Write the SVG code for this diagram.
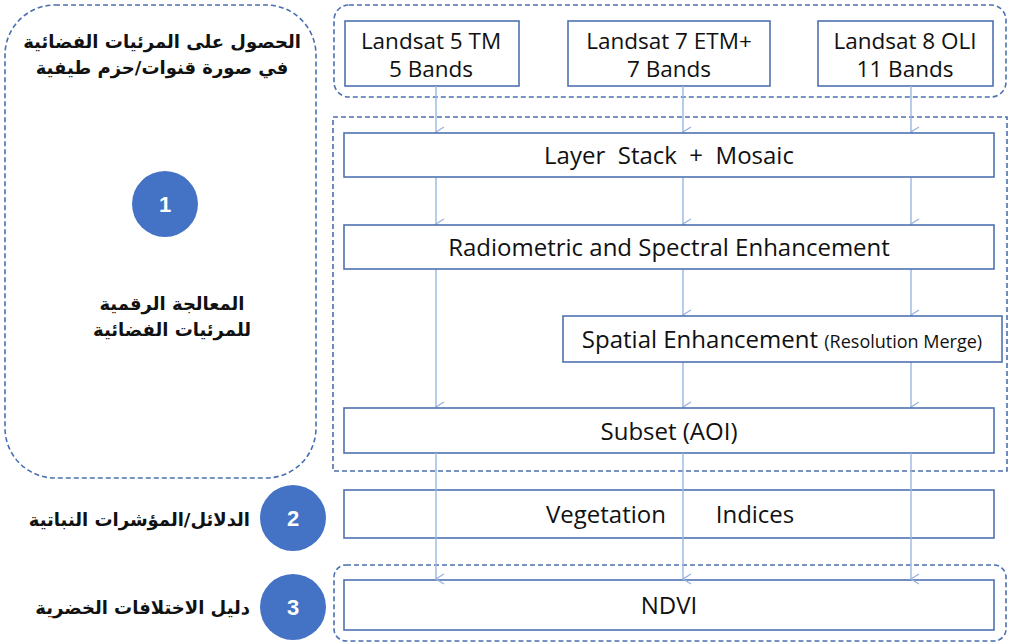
<svg xmlns="http://www.w3.org/2000/svg" width="1011" height="644" viewBox="0 0 1011 644">
<defs>
<style>
.grp{fill:none;stroke:#4a6fb0;stroke-width:1.6;stroke-dasharray:5 3}
.box{fill:#fff;stroke:#4f71b0;stroke-width:1.6}
.en{font-family:"Open Sans",Lato,sans-serif;font-size:24px;fill:#111;text-anchor:middle}
.en2{font-family:"Open Sans",Lato,sans-serif;font-size:22.5px;fill:#111;text-anchor:middle}
.ar{font-family:"DejaVu Sans",sans-serif;font-weight:bold;font-size:18px;fill:#111}
.num{font-family:"Liberation Sans",Arial,sans-serif;font-weight:bold;font-size:22px;fill:#fff;text-anchor:middle}
.circ{fill:#4472c4}
.con{stroke:#9cb6e2;stroke-width:1.4;fill:none;marker-end:url(#ah)}
</style>
<marker id="ah" markerWidth="12" markerHeight="10" refX="6" refY="9" orient="auto-start-reverse" markerUnits="userSpaceOnUse" viewBox="0 0 12 10">
<path d="M1,1 L6,9 L11,1" fill="none" stroke="#9cb6e2" stroke-width="1.4"/>
</marker>
</defs>
<rect width="1011" height="644" fill="#fff"/>

<g id="left-panel">
<rect class="grp" x="5" y="5" width="311" height="473" rx="50"/>
<text class="ar" x="162" y="48" text-anchor="middle" direction="rtl">الحصول على المرئيات الفضائية</text>
<text class="ar" x="162" y="74" text-anchor="middle" direction="rtl">في صورة قنوات/حزم طيفية</text>
</g>
<g id="step1">
<circle class="circ" cx="165" cy="204" r="33"/>
<text class="num" x="165" y="212">1</text>
<text class="ar" x="172" y="310" text-anchor="middle" direction="rtl">المعالجة الرقمية</text>
<text class="ar" x="172" y="336" text-anchor="middle" direction="rtl">للمرئيات الفضائية</text>
</g>
<g id="step2">
<circle class="circ" cx="293" cy="518" r="33"/>
<text class="num" x="293" y="526">2</text>
<text class="ar" x="250" y="526" text-anchor="end" direction="ltr">الدلائل/المؤشرات النباتية</text>
</g>
<g id="step3">
<circle class="circ" cx="293" cy="607" r="33"/>
<text class="num" x="293" y="615">3</text>
<text class="ar" x="250" y="614" text-anchor="end" direction="ltr">دليل الاختلافات الخضرية</text>
</g>

<g id="groups">
<rect class="grp" x="334" y="5" width="672" height="92" rx="15"/>
<rect class="grp" x="333" y="117" width="674" height="354"/>
<rect class="grp" x="334" y="565" width="672" height="76" rx="12"/>
</g>

<g id="landsat5">
<rect class="box" x="345" y="21" width="174" height="65"/>
<text class="en2" x="431" y="49">Landsat 5 TM</text>
<text class="en2" x="431" y="77">5 Bands</text>
</g>
<g id="landsat7">
<rect class="box" x="568" y="21" width="202" height="65"/>
<text class="en2" x="669" y="49">Landsat 7 ETM+</text>
<text class="en2" x="669" y="77">7 Bands</text>
</g>
<g id="landsat8">
<rect class="box" x="818" y="21" width="175" height="65"/>
<text class="en2" x="905" y="49">Landsat 8 OLI</text>
<text class="en2" x="905" y="77">11 Bands</text>
</g>

<g id="connectors">
<line class="con" x1="436" y1="86" x2="436" y2="132"/>
<line class="con" x1="683" y1="86" x2="683" y2="132"/>
<line class="con" x1="911" y1="86" x2="911" y2="132"/>
<line class="con" x1="436" y1="177" x2="436" y2="224"/>
<line class="con" x1="683" y1="177" x2="683" y2="224"/>
<line class="con" x1="911" y1="177" x2="911" y2="224"/>
<line class="con" x1="436" y1="269" x2="436" y2="407"/>
<line class="con" x1="683" y1="269" x2="683" y2="315"/>
<line class="con" x1="911" y1="269" x2="911" y2="315"/>
<line class="con" x1="683" y1="362" x2="683" y2="407"/>
<line class="con" x1="911" y1="362" x2="911" y2="407"/>
</g>

<g id="layerstack">
<rect class="box" x="344" y="133" width="650" height="44"/>
<text class="en" x="669" y="164" xml:space="preserve">Layer  Stack  +  Mosaic</text>
</g>
<g id="radiometric">
<rect class="box" x="344" y="225" width="650" height="44"/>
<text class="en" x="669" y="256">Radiometric and Spectral Enhancement</text>
</g>
<g id="spatial">
<rect class="box" x="563" y="316" width="439" height="46"/>
<text class="en" x="782" y="348">Spatial Enhancement <tspan font-size="18">(Resolution Merge)</tspan></text>
</g>
<g id="subset">
<rect class="box" x="344" y="408" width="650" height="45"/>
<text class="en" x="669" y="440">Subset (AOI)</text>
</g>
<g id="vegetation">
<rect class="box" x="344" y="490" width="650" height="48"/>
<text class="en" x="669" y="523"><tspan x="606">Vegetation</tspan><tspan x="755">Indices</tspan></text>
</g>
<g id="ndvi">
<rect class="box" x="344" y="580" width="650" height="50"/>
<text class="en" x="669" y="614">NDVI</text>
</g>
<g id="connectors-through">
<line class="con" x1="436" y1="453" x2="436" y2="579"/>
<line class="con" x1="683" y1="453" x2="683" y2="579"/>
<line class="con" x1="911" y1="453" x2="911" y2="579"/>
</g>
</svg>
